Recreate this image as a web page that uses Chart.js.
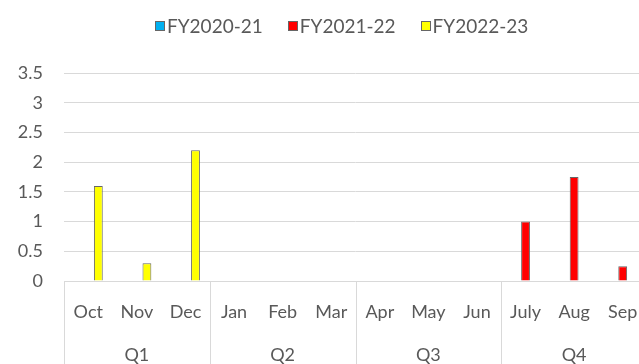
<!DOCTYPE html>
<html>
<head>
<meta charset="utf-8">
<title>FY comparison</title>
<script src="https://cdn.jsdelivr.net/npm/chart.js@4/dist/chart.umd.min.js"></script>
<style>
    html, body { margin: 0; padding: 0; background: #fff; overflow: hidden; width: 639px; height: 364px; }
    #wrap { position: relative; width: 647px; height: 366px; }
    #legend {
        position: absolute; top: 14px; left: 155px;
        display: flex; align-items: center;
        font-family: Lato, sans-serif; font-size: 19px; color: #595959;
    }
    #legend .item { display: flex; align-items: center; margin-right: 25px; }
    #legend .box { width: 8px; height: 8px; border: 1px solid #666; margin-right: 2px; }
</style>
</head>
<body>
<div id="wrap">
    <div id="legend"></div>
    <canvas id="fyChart" width="647" height="366"></canvas>
</div>
<script>
// Mois (ordre de l'exercice) et trimestres
const months = ['Oct', 'Nov', 'Dec', 'Jan', 'Feb', 'Mar', 'Apr', 'May', 'Jun', 'July', 'Aug', 'Sep'];
const quarters = ['Q1', 'Q2', 'Q3', 'Q4'];

// Valeurs par exercice (null = pas de donnée)
const fy2020 = [null, null, null, null, null, null, null, null, null, null, null, null];
const fy2021 = [null, null, null, null, null, null, null, null, null, 1.0, 1.75, 0.25];
const fy2022 = [1.6, 0.3, 2.2, null, null, null, null, null, null, null, null, null];

const seriesNames = ['FY2020-21', 'FY2021-22', 'FY2022-23'];
const seriesColors = ['#00B0F0', '#FF0000', '#FFFF00'];
const yTicks = [0, 0.5, 1, 1.5, 2, 2.5, 3, 3.5];

const gridColor = '#d9d9d9';
const textColor = '#595959';

Chart.defaults.font.family = 'Lato, sans-serif';
Chart.defaults.font.size = 18;
Chart.defaults.color = textColor;

// Légende en HTML
const legend = document.getElementById('legend');
seriesNames.forEach(function (name, i) {
    const item = document.createElement('div');
    item.className = 'item';
    const box = document.createElement('span');
    box.className = 'box';
    box.style.background = seriesColors[i];
    const label = document.createElement('span');
    label.textContent = name;
    item.appendChild(box);
    item.appendChild(label);
    legend.appendChild(item);
});

// Séparateurs verticaux entre trimestres sous l'axe
const quarterLines = {
    id: 'quarterLines',
    afterDraw(chart) {
        const x = chart.scales.x;
        const ctx = chart.ctx;
        const step = x.width / months.length;
        ctx.save();
        ctx.strokeStyle = gridColor;
        ctx.lineWidth = 1;
        for (let i = 0; i <= months.length; i += 3) {
            const px = Math.round(x.left + i * step) + 0.5;
            ctx.beginPath();
            ctx.moveTo(px, chart.chartArea.bottom);
            ctx.lineTo(px, chart.height);
            ctx.stroke();
        }
        ctx.restore();
    }
};

const datasets = [fy2020, fy2021, fy2022].map(function (values, i) {
    return {
        label: seriesNames[i],
        data: values,
        backgroundColor: seriesColors[i],
        borderColor: '#666666',
        borderWidth: 1,
        borderSkipped: 'bottom',
        categoryPercentage: 0.62,
        barPercentage: 0.88
    };
});

// pas de marge latérale sur les axes du bas
function noSidePadding(scale) {
    scale.paddingLeft = 0;
    scale.paddingRight = 0;
}

new Chart(document.getElementById('fyChart'), {
    type: 'bar',
    data: { labels: months, datasets: datasets },
    options: {
        responsive: false,
        animation: false,
        devicePixelRatio: 1,
        layout: { padding: { top: 73, left: 0, right: 0, bottom: 0 } },
        plugins: {
            legend: { display: false },
            tooltip: { enabled: false }
        },
        scales: {
            y: {
                min: 0,
                max: 3.5,
                afterBuildTicks: function (scale) {
                    scale.ticks = yTicks.map(v => ({ value: v }));
                },
                afterFit: function (scale) { scale.width = 64; },
                ticks: {
                    padding: 21,
                    autoSkip: false,
                    color: textColor,
                    font: { size: 18 },
                    callback: v => String(v)
                },
                grid: { color: gridColor, drawTicks: false },
                border: { display: false }
            },
            x: {
                weight: 0,
                afterFit: function (scale) {
                    scale.height = 42;
                    noSidePadding(scale);
                },
                grid: { display: false, drawTicks: true, tickLength: 20 },
                border: { display: true, color: gridColor },
                ticks: { padding: 0, color: textColor, maxRotation: 0, autoSkip: false }
            },
            x2: {
                type: 'category',
                position: 'bottom',
                weight: 1,
                labels: quarters,
                offset: true,
                afterFit: function (scale) {
                    scale.height = 43;
                    noSidePadding(scale);
                },
                grid: { display: false, drawTicks: true, tickLength: 21 },
                border: { display: false },
                ticks: { padding: 0, color: textColor, maxRotation: 0 }
            }
        }
    },
    plugins: [quarterLines]
});
</script>
</body>
</html>
